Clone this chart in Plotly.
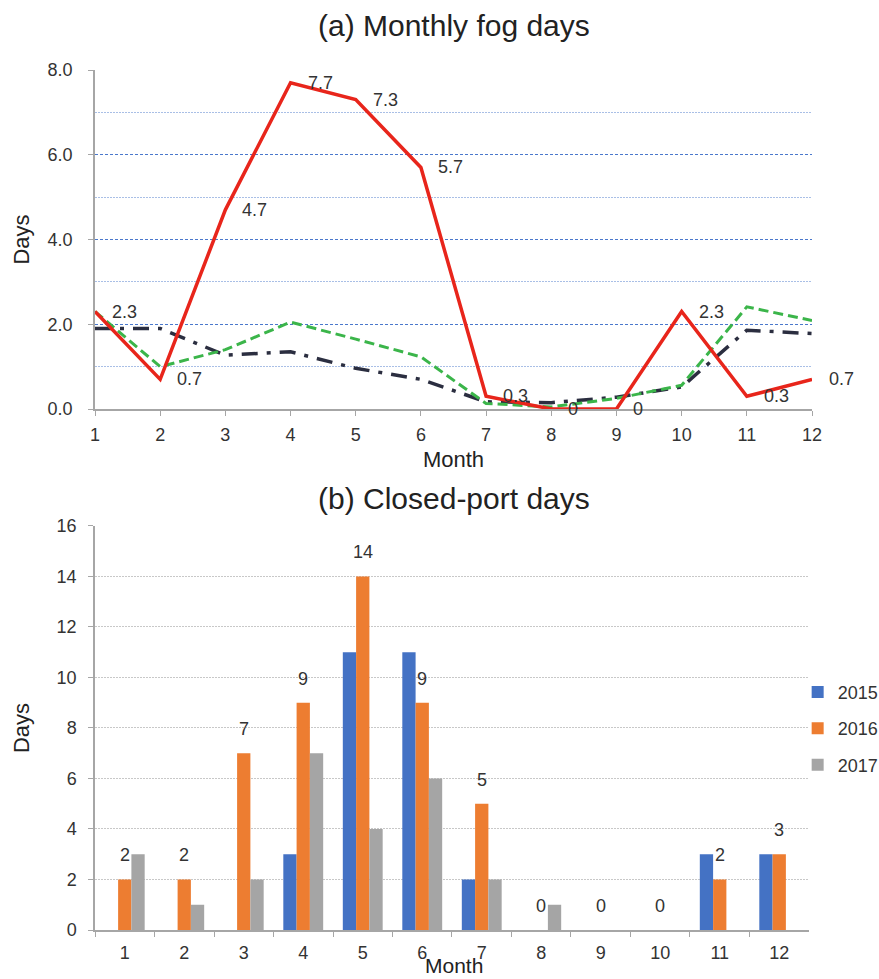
import plotly.graph_objects as go
from plotly.subplots import make_subplots

# ---- data ----
months_num = [1, 2, 3, 4, 5, 6, 7, 8, 9, 10, 11, 12]
fog_red = [2.3, 0.7, 4.7, 7.7, 7.3, 5.7, 0.3, 0, 0, 2.3, 0.3, 0.7]
fog_green = [2.3, 1.0, 1.4, 2.05, 1.65, 1.23, 0.13, 0.05, 0.25, 0.56, 2.41, 2.09]
fog_dark = [1.9, 1.9, 1.27, 1.35, 0.96, 0.7, 0.17, 0.15, 0.28, 0.52, 1.86, 1.78]

month_cats = ["1", "2", "3", "4", "5", "6", "7", "8", "9", "10", "11", "12"]
closed_2015 = [0, 0, 0, 3, 11, 11, 2, 0, 0, 0, 3, 3]
closed_2016 = [2, 2, 7, 9, 14, 9, 5, 0, 0, 0, 2, 3]
closed_2017 = [3, 1, 2, 7, 4, 6, 2, 1, 0, 0, 0, 0]
years = ["2015", "2016", "2017"]

FONT = "Liberation Sans, Arial, sans-serif"
TXT = "#333333"
AX = "#A6A6A6"

fig = make_subplots(rows=2, cols=1, vertical_spacing=0.1)

# top chart lines
fig.add_trace(go.Scatter(x=months_num, y=fog_dark, mode="lines", showlegend=False,
                         line=dict(color="#2B2E40", width=3.5, dash="16px,9px,4px,9px")), row=1, col=1)
fig.add_trace(go.Scatter(x=months_num, y=fog_green, mode="lines", showlegend=False,
                         line=dict(color="#3BB54A", width=3, dash="10px,5px")), row=1, col=1)
fig.add_trace(go.Scatter(x=months_num, y=fog_red, mode="lines", showlegend=False,
                         line=dict(color="#E8251B", width=3.5)), row=1, col=1)

for m, v in zip(months_num, fog_red):
    fig.add_annotation(x=m, y=v, xref="x", yref="y", text=f"{v:g}", showarrow=False,
                       xanchor="left", yanchor="middle", xshift=15,
                       font=dict(family=FONT, size=18, color=TXT))

# bottom chart bars
colors = ["#4472C4", "#ED7D31", "#A5A5A5"]
for name, vals, c in zip(years, [closed_2015, closed_2016, closed_2017], colors):
    fig.add_trace(go.Bar(x=month_cats, y=vals, name=name, marker=dict(color=c, line=dict(width=0)),
                         legendgroup=name), row=2, col=1)

# labels of the 2016 series (category index positions)
for i, v in enumerate(closed_2016):
    fig.add_annotation(x=i, y=v, xref="x2", yref="y2", text=str(v), showarrow=False,
                       xanchor="center", yanchor="middle", yshift=24,
                       font=dict(family=FONT, size=18, color=TXT))

# titles
fig.add_annotation(x=0.5, y=1.052, xref="paper", yref="paper", text="(a) Monthly fog days",
                   showarrow=False, xanchor="center", yanchor="middle",
                   font=dict(family=FONT, size=30, color="#222222"))
fig.add_annotation(x=0.5, y=0.5023, xref="paper", yref="paper", text="(b) Closed-port days",
                   showarrow=False, xanchor="center", yanchor="middle",
                   font=dict(family=FONT, size=30, color="#222222"))
# bottom x-axis title
fig.add_annotation(x=0.5, y=-0.057, xref="paper", yref="paper", text="Month",
                   showarrow=False, xanchor="center", yanchor="bottom",
                   font=dict(family=FONT, size=21, color="#222222"))

fig.update_layout(
    width=879, height=979,
    margin=dict(l=95, r=67, t=70, b=49, autoexpand=False),
    paper_bgcolor="white", plot_bgcolor="white",
    font=dict(family=FONT, size=18, color=TXT),
    barmode="group", bargap=0.33, bargroupgap=0,
    legend=dict(x=0.98, y=0.298, xanchor="left", yanchor="top",
                traceorder="grouped", tracegroupgap=10,
                font=dict(family=FONT, size=18, color=TXT), bgcolor="rgba(0,0,0,0)"),
)

fig.update_xaxes(row=1, col=1, domain=[0, 1], range=[1, 12], tickmode="linear", tick0=1, dtick=1,
                 showline=True, linecolor=AX, linewidth=1.5, ticks="outside", ticklen=5,
                 tickcolor=AX, showgrid=False, zeroline=False, ticklabelstandoff=4,
                 tickfont=dict(size=18, color=TXT),
                 title=dict(text="Month", standoff=7, font=dict(size=22, color="#222222")))
fig.update_yaxes(row=1, col=1, domain=[0.6058, 1], range=[0, 8], tickmode="linear", tick0=0, dtick=2,
                 tickformat=".1f", showline=True, linecolor=AX, linewidth=1.5, ticks="outside",
                 ticklen=5, tickcolor=AX, showgrid=True, gridcolor="#4A78CC", gridwidth=1,
                 griddash="3px,2px", zeroline=False, ticklabelstandoff=12,
                 minor=dict(dtick=1, tick0=0, showgrid=True, gridcolor="#A9BFE6", gridwidth=1,
                            griddash="2px,1px", ticks=""),
                 tickfont=dict(size=18, color=TXT),
                 title=dict(text="Days", standoff=12, font=dict(size=22, color="#222222")))

fig.update_xaxes(row=2, col=1, domain=[0, 0.9958], type="category", range=[-0.5, 11.5],
                 showline=True, linecolor=AX, linewidth=1.5, ticks="outside", ticklen=5,
                 tickcolor=AX, tickson="boundaries", showgrid=False, zeroline=False,
                 ticklabelstandoff=6, tickfont=dict(size=18, color=TXT))
fig.update_yaxes(row=2, col=1, domain=[0, 0.4698], range=[0, 16], tickmode="linear", tick0=0, dtick=2,
                 showline=True, linecolor=AX, linewidth=1.5, ticks="outside", ticklen=5,
                 tickcolor=AX, showgrid=True, gridcolor="#C8C8C8", gridwidth=1, griddash="2px,1px",
                 zeroline=False, ticklabelstandoff=8, tickfont=dict(size=18, color=TXT),
                 title=dict(text="Days", standoff=21, font=dict(size=22, color="#222222")))

fig.write_html("out.html")
